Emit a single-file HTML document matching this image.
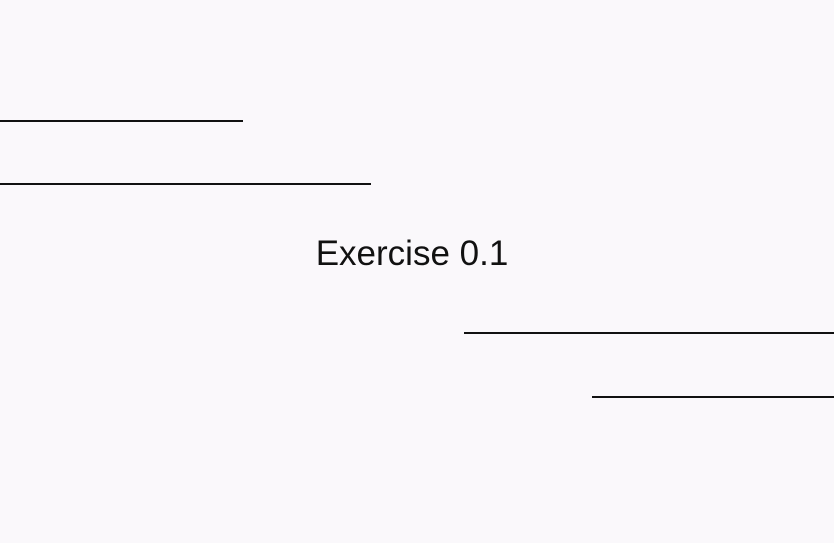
<!DOCTYPE html>
<html><head><meta charset="utf-8"><style>
html,body{margin:0;padding:0}
body{width:834px;height:543px;background:#faf8fb;position:relative;overflow:hidden;font-family:"Liberation Sans",sans-serif}
.l{position:absolute;height:2px;background:#111}
#t{position:absolute;left:-5px;width:834px;top:233px;text-align:center;font-size:35px;color:#111;line-height:42px}
</style></head><body>
<div class="l" style="left:0;top:120px;width:243px"></div>
<div class="l" style="left:0;top:183px;width:371px"></div>
<div id="t">Exercise 0.1</div>
<div class="l" style="left:464px;top:332px;width:370px"></div>
<div class="l" style="left:592px;top:396px;width:242px"></div>
</body></html>
